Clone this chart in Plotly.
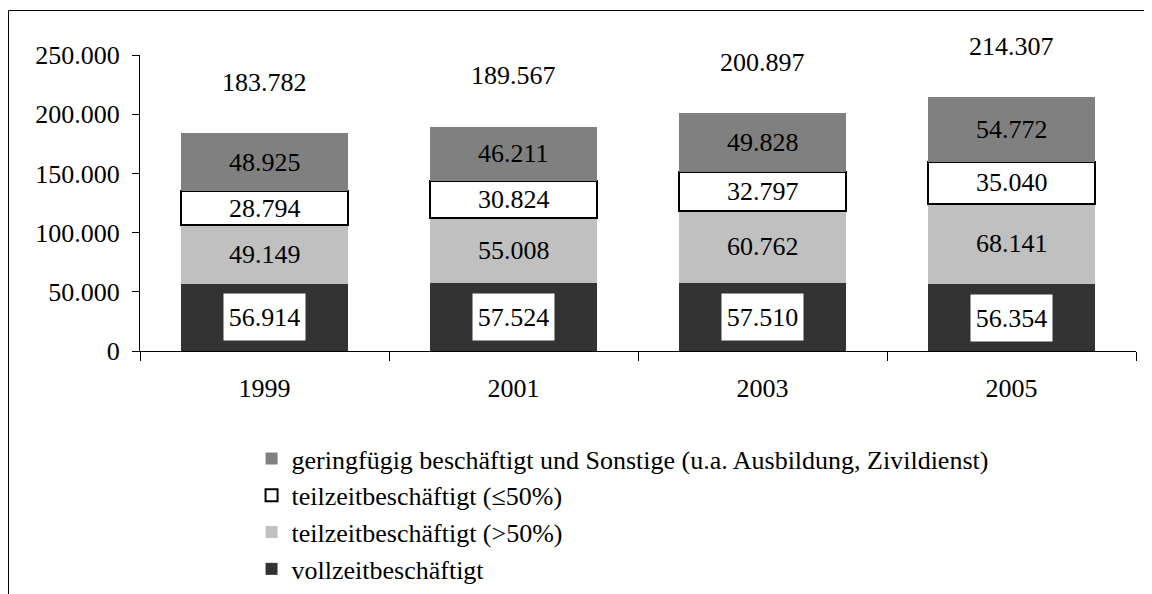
import plotly.graph_objects as go

years = ["1999", "2001", "2003", "2005"]
vollzeit = [56914, 57524, 57510, 56354]
teilzeit_gt50 = [49149, 55008, 60762, 68141]
teilzeit_le50 = [28794, 30824, 32797, 35040]
geringfuegig = [48925, 46211, 49828, 54772]
totals = [183782, 189567, 200897, 214307]

names = [
    "vollzeitbeschäftigt",
    "teilzeitbeschäftigt (>50%)",
    "teilzeitbeschäftigt (≤50%)",
    "geringfügig beschäftigt und Sonstige (u.a. Ausbildung, Zivildienst)",
]
series = [vollzeit, teilzeit_gt50, teilzeit_le50, geringfuegig]
colors = ["#333333", "#C0C0C0", "#FFFFFF", "#808080"]
line_w = [0, 0, 2, 0]

FONT = "Liberation Serif, Times New Roman, serif"
FS = 26

def fmt(v):
    return f"{v:,}".replace(",", ".")

fig = go.Figure()
for name, vals, col, lw in zip(names, series, colors, line_w):
    fig.add_trace(go.Bar(
        x=years, y=vals, name=name,
        marker=dict(color=col, line=dict(color="black", width=lw)),
        width=0.67, hoverinfo="skip",
    ))

annotations = []
base = [0] * len(years)
for i, vals in enumerate(series):
    for j, v in enumerate(vals):
        # category axis: annotation x given as category index
        a = dict(x=j, y=base[j] + v / 2, text=fmt(v), showarrow=False,
                 font=dict(family=FONT, size=FS, color="black"),
                 xref="x", yref="y", yanchor="middle", xanchor="center")
        if i == 0:
            a.update(bgcolor="white", width=81, height=46, borderpad=0)
        annotations.append(a)
        base[j] += v

for j, t in enumerate(totals):
    annotations.append(dict(x=j, y=t, text=fmt(t), showarrow=False,
                            yshift=51, yanchor="middle", xanchor="center",
                            font=dict(family=FONT, size=FS, color="black"),
                            xref="x", yref="y"))

fig.update_layout(
    barmode="stack",
    width=1152, height=594,
    margin=dict(l=132, r=24, t=47, b=251, autoexpand=False),
    paper_bgcolor="white", plot_bgcolor="white",
    separators=",.",
    font=dict(family=FONT, size=FS, color="black"),
    showlegend=True,
    legend=dict(x=0.112, y=-0.284, xanchor="left", yanchor="top",
                font=dict(family=FONT, size=FS, color="black"),
                bgcolor="rgba(0,0,0,0)", itemclick=False),
    annotations=annotations,
    shapes=[
        dict(type="line", xref="paper", yref="paper",
             x0=-0.1320, x1=1.05, y0=1.1503, y1=1.1503,
             line=dict(color="black", width=1)),
        dict(type="line", xref="paper", yref="paper",
             x0=-0.1320, x1=-0.1320, y0=1.1503, y1=-0.95,
             line=dict(color="black", width=1)),
    ],
)
fig.update_xaxes(
    type="category", range=[-0.5, 3.5], autorange=False,
    showline=True, linecolor="black", linewidth=1,
    ticks="outside", tickson="boundaries", ticklen=9, tickcolor="black",
    showgrid=False, tickangle=0, ticklabelstandoff=14,
    tickfont=dict(family=FONT, size=FS, color="black"),
)
fig.update_yaxes(
    range=[0, 250000], autorange=False,
    tickvals=[0, 50000, 100000, 150000, 200000, 250000],
    tickformat=",d",
    showline=True, linecolor="black", linewidth=1,
    ticks="outside", ticklen=7, tickcolor="black",
    showgrid=False, zeroline=False, ticklabelstandoff=7,
    tickfont=dict(family=FONT, size=FS, color="black"),
)

fig.write_html("out.html")
